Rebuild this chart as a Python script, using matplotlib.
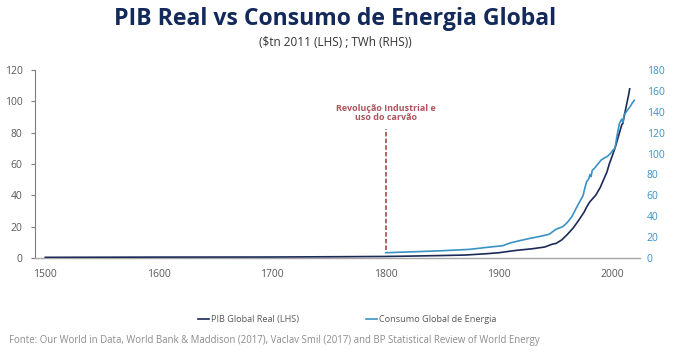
import matplotlib.pyplot as plt
from matplotlib.lines import Line2D

# PIB real mundial ($tn 2011)
gdp_years = [1500, 1600, 1700, 1750, 1800, 1820, 1850, 1870, 1890, 1900, 1913, 1918,
             1929, 1940, 1947, 1950, 1955, 1960, 1965, 1970, 1975, 1977, 1980, 1985,
             1989, 1992, 1995, 1997, 2000, 2002, 2004, 2006, 2008, 2009, 2010, 2012,
             2014, 2015]
gdp_values = [0.43, 0.58, 0.64, 0.8, 1.0, 1.2, 1.6, 1.9, 2.8, 3.4, 4.7, 5.1,
              5.9, 7.0, 8.9, 9.3, 11.5, 15.0, 19.0, 24.0, 29.5, 32.5, 36.0, 40.0,
              45.0, 50.0, 55.0, 60.0, 66.0, 70.0, 75.0, 80.0, 85.0, 86.0, 90.0, 97.0,
              104.0, 108.0]

# Consumo global de energia (mil TWh)
energy_years = [1800, 1820, 1850, 1874, 1890, 1903, 1910, 1918, 1927, 1935, 1944,
                1950, 1956, 1960, 1964, 1968, 1972, 1974, 1975, 1977, 1979, 1980,
                1981, 1982, 1984, 1987, 1990, 1993, 1995, 1998, 2000, 2002, 2004,
                2006, 2008, 2009, 2010, 2012, 2014, 2016, 2017, 2019]
energy_values = [5.1, 5.8, 7.0, 8.3, 10.3, 11.8, 14.5, 16.6, 18.8, 20.5, 22.7,
                 27.5, 30.0, 34.0, 39.5, 48.0, 56.0, 60.0, 65.0, 73.0, 76.0, 80.0,
                 78.0, 84.0, 86.0, 90.0, 94.0, 96.0, 97.0, 100.0, 103.0, 105.0, 118.0,
                 129.0, 133.0, 130.0, 137.0, 140.0, 143.0, 146.0, 148.0, 151.0]

x_ticks = [1500, 1600, 1700, 1800, 1900, 2000]
left_ticks = [0, 20, 40, 60, 80, 100, 120]
right_ticks = [0, 20, 40, 60, 80, 100, 120, 140, 160, 180]

navy = '#1b2a57'
blue = '#3a92c4'
grey = '#595959'
red = '#b0545e'

plt.rcParams['font.family'] = ['Open Sans', 'DejaVu Sans']

fig = plt.figure(figsize=(6.75, 3.52), dpi=100)
ax = fig.add_axes([0.052, 0.267, 0.896, 0.534])
ax2 = ax.twinx()

ax.plot(gdp_years, gdp_values, color=navy, lw=1.2, zorder=3)
ax2.plot(energy_years, energy_values, color=blue, lw=1.2)

ax.set_xlim(1491, 2024)
ax.set_ylim(0, 120)
ax2.set_ylim(0, 180)
ax.set_xticks(x_ticks)
ax.set_yticks(left_ticks)
ax2.set_yticks(right_ticks)

for spine in ['top', 'right']:
    ax.spines[spine].set_visible(False)
for spine in ax2.spines.values():
    spine.set_visible(False)
ax.spines['left'].set_color('#7f7f7f')
ax.spines['bottom'].set_color('#a6a6a6')
ax.spines['left'].set_linewidth(0.8)
ax.spines['bottom'].set_linewidth(1.0)

ax.tick_params(axis='x', length=0, pad=8, labelsize=7.5, labelcolor=grey)
ax.tick_params(axis='y', length=3, color='#7f7f7f', labelsize=7.5, labelcolor=grey, pad=6)
ax2.tick_params(axis='y', length=0, labelsize=7.5, labelcolor=blue, pad=5)

# marco 1800
ax2.plot([1800, 1800], [8, 124], color=red, lw=1.3, ls=(0, (2.5, 1.2)))
ax2.text(1800, 130, 'Revolução Industrial e\nuso do carvão', color=red, fontsize=6.5,
         fontweight='bold', ha='center', va='bottom', linespacing=1.1)

fig.text(0.497, 0.945, 'PIB Real vs Consumo de Energia Global', ha='center', va='center',
         fontsize=16.6, fontweight='bold', color='#12295a')
fig.text(0.497, 0.88, '($tn 2011 (LHS) ; TWh (RHS))', ha='center', va='center',
         fontsize=8.5, color='#333333')

handles = [Line2D([], [], color=navy, lw=1.2), Line2D([], [], color=blue, lw=1.2)]
fig.legend(handles, ['PIB Global Real (LHS)', 'Consumo Global de Energia'],
           loc='center', bbox_to_anchor=(0.514, 0.093), ncol=2, frameon=False,
           fontsize=6.6, handlelength=1.2, handletextpad=0.25, columnspacing=7.3,
           labelcolor=grey)

fig.text(0.013, 0.033, 'Fonte: Our World in Data, World Bank & Maddison (2017), Vaclav Smil (2017) '
         'and BP Statistical Review of World Energy', fontsize=6.9, color='#8c8c8c',
         ha='left', va='center')

fig.savefig('out.png', dpi=100)
